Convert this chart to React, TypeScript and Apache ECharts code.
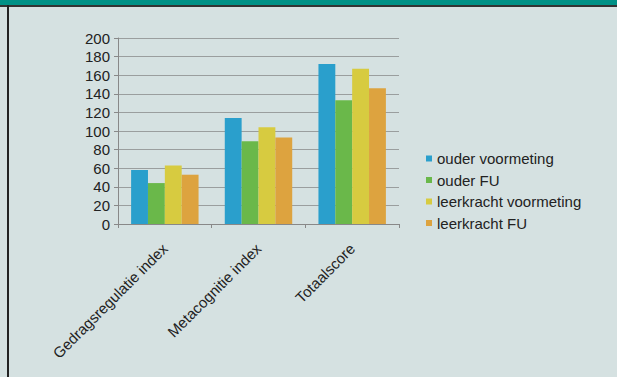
import React, { useEffect, useRef } from "react";
import * as echarts from "echarts";

const categories = ["Gedragsregulatie index", "Metacognitie index", "Totaalscore"];
const seriesNames = ["ouder voormeting", "ouder FU", "leerkracht voormeting", "leerkracht FU"];
const ouderVoormeting = [58, 114, 172];
const ouderFU = [44, 89, 133];
const leerkrachtVoormeting = [63, 104, 167];
const leerkrachtFU = [53, 93, 146];
const colors = ["#2a9fcc", "#6ab84a", "#d7cb40", "#dda33f"];

export default function App() {
  const ref = useRef<HTMLDivElement>(null);
  useEffect(() => {
    if (!ref.current) return;
    const chart = echarts.init(ref.current, undefined, { renderer: "svg" });
    const data = [ouderVoormeting, ouderFU, leerkrachtVoormeting, leerkrachtFU];
    chart.setOption({
      animation: false,
      backgroundColor: "transparent",
      textStyle: { fontFamily: "Liberation Sans, Arial, sans-serif" },
      grid: { left: 118, right: 218, top: 38, bottom: 153 },
      legend: {
        orient: "vertical",
        left: 426,
        top: 151,
        padding: 0,
        itemWidth: 6,
        itemHeight: 6,
        itemGap: 6.5,
        icon: "rect",
        data: seriesNames,
        textStyle: { fontSize: 15, color: "#222", lineHeight: 15 },
      },
      xAxis: {
        type: "category",
        data: categories,
        axisLine: { lineStyle: { color: "#888" } },
        axisTick: { show: true, length: 4, lineStyle: { color: "#888" } },
        axisLabel: { rotate: 45, fontSize: 15, color: "#222", margin: 22, interval: 0 },
      },
      yAxis: {
        type: "value",
        min: 0,
        max: 200,
        interval: 20,
        axisLine: { show: true, lineStyle: { color: "#888" } },
        axisTick: { show: true, length: 4, lineStyle: { color: "#888" } },
        splitLine: { lineStyle: { color: "#9a9e9e" } },
        axisLabel: { fontSize: 15, color: "#222", margin: 8 },
      },
      series: seriesNames.map((name, i) => ({
        name,
        type: "bar",
        data: data[i],
        itemStyle: { color: colors[i] },
        barGap: "0%",
        barCategoryGap: "28%",
      })),
    });
    return () => chart.dispose();
  }, []);
  return (
    <div
      style={{
        position: "fixed",
        left: 0,
        top: 0,
        width: 617,
        height: 377,
        overflow: "hidden",
        background: "#d5e1e1",
        boxSizing: "border-box",
        borderTop: "5px solid #009186",
      }}
    >
      <div style={{ position: "absolute", left: 0, top: 0, width: 617, height: 2, background: "#333333" }} />
      <div style={{ position: "absolute", left: 7, top: 0, width: 2, height: 372, background: "#222222" }} />
      <div ref={ref} style={{ width: 617, height: 377, position: "absolute", left: 0, top: -5 }} />
    </div>
  );
}
